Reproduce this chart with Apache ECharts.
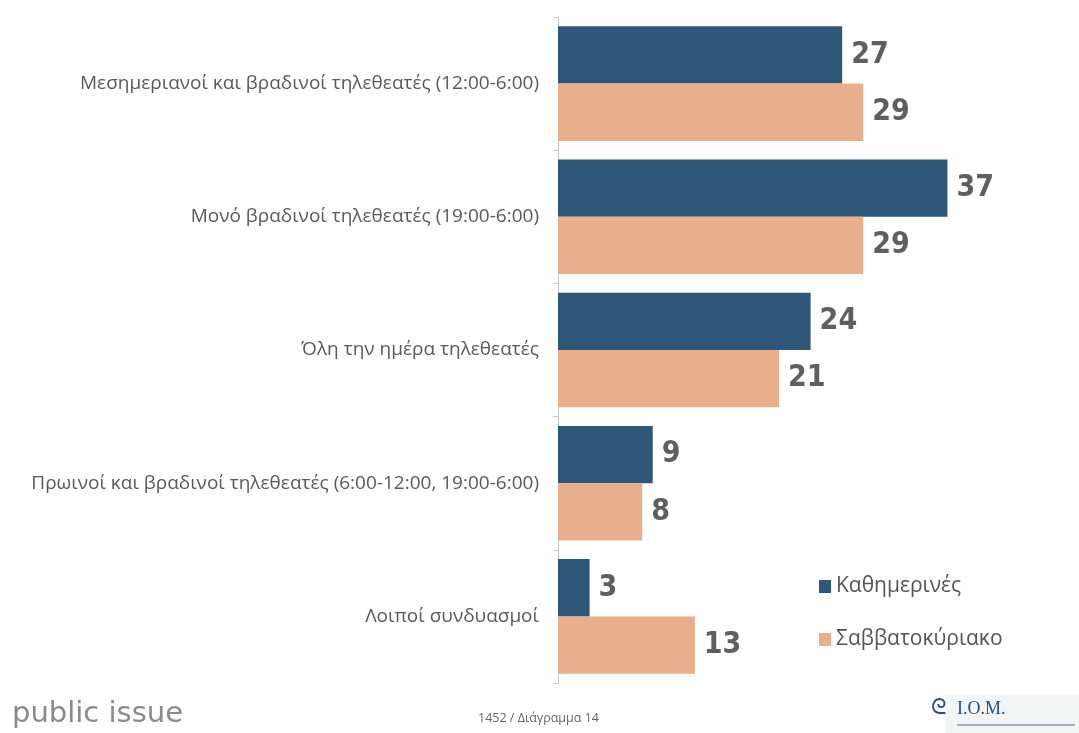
<!DOCTYPE html>
<html>
<head>
<meta charset="utf-8">
<script src="https://cdn.jsdelivr.net/npm/echarts@6/dist/echarts.min.js"></script>
<style>
  html, body { margin: 0; padding: 0; background: #ffffff; }
  #chart { width: 1079px; height: 733px; }
</style>
</head>
<body>
<div id="chart"></div>
<script>
// Viewer groups (top to bottom)
const categories = [
  'Μεσημεριανοί και βραδινοί τηλεθεατές (12:00-6:00)',
  'Μονό βραδινοί τηλεθεατές (19:00-6:00)',
  'Όλη την ημέρα τηλεθεατές',
  'Πρωινοί και βραδινοί τηλεθεατές (6:00-12:00, 19:00-6:00)',
  'Λοιποί συνδυασμοί'
];
const seriesNames = ['Καθημερινές', 'Σαββατοκύριακο'];
const weekdays = [27, 37, 24, 9, 3];
const weekend = [29, 29, 21, 8, 13];

const chart = echarts.init(document.getElementById('chart'), null, { renderer: 'canvas' });

const labelStyle = {
  show: true,
  position: 'right',
  distance: 9,
  color: '#5f5f5f',
  fontSize: 30,
  fontWeight: 'bold',
  fontFamily: '"DejaVu Sans Condensed", sans-serif'
};

chart.setOption({
  backgroundColor: '#ffffff',
  animation: false,
  grid: { left: 558, right: 100, top: 17, bottom: 50, containLabel: false },
  legend: {
    orient: 'vertical',
    left: 814,
    top: 571,
    itemWidth: 12,
    itemHeight: 13,
    itemGap: 32,
    icon: 'rect',
    textStyle: { color: '#555555', fontSize: 21, fontFamily: '"Open Sans", sans-serif' },
    data: seriesNames
  },
  xAxis: {
    type: 'value',
    min: 0,
    max: 40,
    show: false
  },
  yAxis: {
    type: 'category',
    inverse: true,
    data: categories,
    axisLine: { show: true, lineStyle: { color: '#c8c8c8', width: 1 } },
    axisTick: { show: true, length: 5, lineStyle: { color: '#c8c8c8' } },
    axisLabel: {
      color: '#595959',
      fontSize: 19,
      margin: 19,
      fontFamily: '"Open Sans", sans-serif'
    }
  },
  series: [
    {
      name: seriesNames[0],
      type: 'bar',
      data: weekdays,
      barGap: '0%',
      barCategoryGap: '14%',
      itemStyle: { color: '#2f5779' },
      label: labelStyle
    },
    {
      name: seriesNames[1],
      type: 'bar',
      data: weekend,
      itemStyle: { color: '#e9ae8c' },
      label: labelStyle
    }
  ],
  graphic: [
    {
      type: 'text', left: 12, top: 700,
      style: { text: 'public issue', fill: '#8a8a8a', fontSize: 29, fontFamily: '"DejaVu Sans", sans-serif', fontWeight: 'normal' }
    },
    {
      type: 'text', left: 478, top: 712,
      style: { text: '1452 / Διάγραμμα 14', fill: '#666666', fontSize: 12.5, fontFamily: '"Open Sans", sans-serif' }
    },
    {
      type: 'rect', left: 945, top: 695, shape: { width: 134, height: 38 },
      style: { fill: '#f2f5f3' }
    },
    {
      type: 'text', left: 957, top: 700,
      style: { text: 'I.O.M.', fill: '#2a4f7d', fontSize: 18, fontFamily: '"Liberation Serif", serif' }
    },
    {
      type: 'text', left: 931, top: 697,
      style: { text: 'ᘓ', fill: '#2a4f7d', fontSize: 22, fontFamily: '"DejaVu Sans", sans-serif' }
    },
    {
      type: 'rect', left: 957, top: 724, shape: { width: 118, height: 2 },
      style: { fill: '#9fb0c0' }
    }
  ]
});
</script>
</body>
</html>
